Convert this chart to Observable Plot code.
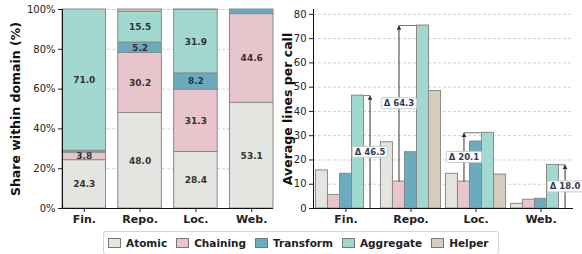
<!DOCTYPE html>
<html><head><meta charset="utf-8">
<script src="https://cdn.jsdelivr.net/npm/d3@7"></script>
<script src="https://cdn.jsdelivr.net/npm/@observablehq/plot@0.6"></script>
<style>
body{margin:0;background:#fff;font-family:"DejaVu Sans",sans-serif;}
#wrap{position:relative;width:582px;height:254px;overflow:hidden;background:#fff;}
#left{position:absolute;left:0;top:0;}
#right{position:absolute;left:280px;top:0;}
#legend{position:absolute;left:103px;top:231px;height:24px;border:1px solid #d4d4d4;border-radius:3px;display:flex;align-items:center;padding:0 0 0 4px;font-weight:bold;font-size:10.5px;color:#222;background:#fff;white-space:nowrap;box-sizing:border-box;}
.item{display:flex;align-items:center;margin-right:9px}
.sw{width:11px;height:8px;border:1px solid #777;margin-right:5px}
</style></head><body><div id="wrap"><div id="left"></div><div id="right"></div><div id="legend"></div></div>
<script>
const domains = ["Fin.", "Repo.", "Loc.", "Web."];
const categories = ["Atomic", "Chaining", "Transform", "Aggregate", "Helper"];
const colors = ["#e4e4e0", "#e8c5cc", "#6aabbf", "#a1d9d0", "#d6ccbb"];
// share within domain (%), in category order
const shareFin  = [24.3, 3.8, 0.9, 71.0, 0];
const shareRepo = [48.0, 30.2, 5.2, 15.5, 1.1];
const shareLoc  = [28.4, 31.3, 8.2, 31.9, 0.2];
const shareWeb  = [53.1, 44.6, 2.3, 0, 0];
// average lines per call
const linesFin  = [15.7, 5.6, 14.3, 46.5, 0];
const linesRepo = [27.3, 11.1, 23.2, 75.4, 48.4];
const linesLoc  = [14.3, 11.1, 27.6, 31.2, 14.0];
const linesWeb  = [1.9, 3.6, 4.0, 18.0, 0];
const shareTicks = [0, 20, 40, 60, 80, 100];
const lineTicks = [0, 10, 20, 30, 40, 50, 60, 70, 80];

const shares = [shareFin, shareRepo, shareLoc, shareWeb];
const lines = [linesFin, linesRepo, linesLoc, linesWeb];
const font = {fontFamily: "DejaVu Sans", fontSize: "10px", color: "#222", background: "#fff", overflow: "visible"};
const colorScale = {domain: categories, range: colors};
const edge = "#8a8a8a";

// ---- left: stacked shares
const half = 0.39;
const shareRows = [];
shares.forEach((vals, g) => {
  let acc = 0;
  vals.forEach((v, c) => {
    shareRows.push({g, cat: categories[c], value: v, y1: acc, y2: acc + v});
    acc += v;
  });
});

const left = Plot.plot({
  width: 280, height: 230,
  marginLeft: 62, marginRight: 7, marginTop: 9, marginBottom: 22,
  style: font,
  x: {domain: [-half, 3 + half], axis: null},
  y: {domain: [0, 100], axis: null},
  color: colorScale,
  marks: [
    Plot.gridY(shareTicks.slice(1), {stroke: "#d2d2d2", strokeOpacity: 1, strokeDasharray: "3,2"}),
    Plot.rectY(shareRows.filter(d => d.value > 0), {
      x1: d => d.g - half, x2: d => d.g + half, y1: "y1", y2: "y2",
      fill: "cat", stroke: edge, strokeWidth: 1
    }),
    Plot.text(shareRows, {
      x: "g", y: d => (d.y1 + d.y2) / 2,
      text: d => d.value >= 3.5 ? d.value.toFixed(1) : "",
      fontWeight: "bold", fontSize: 9, fill: "#333"
    }),
    Plot.ruleY([0], {stroke: "#111"}),
    Plot.ruleX([-half], {stroke: "#111"}),
    Plot.axisY(shareTicks, {tickFormat: d => d + "%", tickSize: 4, tickPadding: 3, fontSize: 10, label: null}),
    Plot.axisX([0, 1, 2, 3], {tickFormat: i => domains[i], tickSize: 4, tickPadding: 3, fontWeight: "bold", fontSize: 11, label: null}),
    Plot.text(["Share within domain (%)"], {frameAnchor: "left", textAnchor: "middle", rotate: -90, dx: -47, fontWeight: "bold", fontSize: 12.5, fill: "#111"})
  ]
});
document.getElementById("left").append(left);

// ---- right: grouped lines per call
const w = 0.185;
const lineRows = [];
lines.forEach((vals, g) => vals.forEach((v, c) => {
  lineRows.push({g, c, cat: categories[c], value: v, x1: g + (c - 2.5) * w, x2: g + (c - 1.5) * w});
}));
const deltas = lines.map((vals, g) => {
  const maxV = d3.max(vals), minV = d3.min(vals);
  const maxI = vals.indexOf(maxV), minI = vals.indexOf(minV);
  return {g, maxV, minV, ax: g + (minI - 2) * w, mx: g + (maxI - 2) * w, delta: maxV - minV};
});

const right = Plot.plot({
  width: 302, height: 230,
  marginLeft: 33, marginRight: 9, marginTop: 9, marginBottom: 22,
  style: font,
  x: {domain: [-0.5, 3.5], axis: null},
  y: {domain: [0, 82], axis: null},
  color: colorScale,
  marks: [
    Plot.gridY(lineTicks.slice(1), {stroke: "#d2d2d2", strokeOpacity: 1, strokeDasharray: "3,2"}),
    Plot.link(deltas, {x1: "ax", x2: "mx", y1: "maxV", y2: "maxV", stroke: "#777", strokeWidth: 1}),
    Plot.rectY(lineRows.filter(d => d.value > 0), {
      x1: "x1", x2: "x2", y1: 0, y2: "value", fill: "cat", stroke: edge, strokeWidth: 1
    }),
    Plot.link(deltas, {x1: "ax", x2: "ax", y1: "minV", y2: "maxV", stroke: "#333", strokeWidth: 1}),
    Plot.dot(deltas, {x: "ax", y: "maxV", symbol: "triangle", r: 1.8, fill: "#333", stroke: "none", dy: 2.8}),
    Plot.ruleY([0], {stroke: "#111"}),
    Plot.ruleX([-0.5], {stroke: "#111"}),
    Plot.axisY(lineTicks, {tickSize: 4, tickPadding: 3, fontSize: 10, label: null}),
    Plot.axisX([0, 1, 2, 3], {tickFormat: i => domains[i], tickSize: 4, tickPadding: 3, fontWeight: "bold", fontSize: 11, label: null}),
    Plot.text(deltas, {
      x: "ax", y: d => (d.minV + d.maxV) / 2, text: d => "Δ " + d.delta.toFixed(1),
      fontWeight: "bold", fontSize: 8.5, fill: "#2f3d55"
    }),
    Plot.text(["Average lines per call"], {frameAnchor: "left", textAnchor: "middle", rotate: -90, dx: -26, fontWeight: "bold", fontSize: 12.5, fill: "#111"})
  ]
});
document.getElementById("right").append(right);

// white boxes behind the delta labels
Array.from(right.querySelectorAll("text"))
  .filter(t => t.textContent.startsWith("Δ"))
  .forEach(t => {
    const b = t.getBBox();
    const r = document.createElementNS("http://www.w3.org/2000/svg", "rect");
    r.setAttribute("x", b.x - 2.5);
    r.setAttribute("y", b.y - 0.5);
    r.setAttribute("width", b.width + 5);
    r.setAttribute("height", b.height + 1);
    r.setAttribute("rx", 1.5);
    r.setAttribute("fill", "#fff");
    r.setAttribute("stroke", "#c8c8c8");
    r.setAttribute("stroke-width", 1);
    if (t.getAttribute("transform")) r.setAttribute("transform", t.getAttribute("transform"));
    t.parentNode.insertBefore(r, t);
  });

// legend
const legend = document.getElementById("legend");
categories.forEach((c, i) => {
  const it = document.createElement("div");
  it.className = "item";
  const sw = document.createElement("div");
  sw.className = "sw";
  sw.style.background = colors[i];
  const lab = document.createElement("span");
  lab.textContent = c;
  it.append(sw, lab);
  legend.append(it);
});
</script></body></html>
